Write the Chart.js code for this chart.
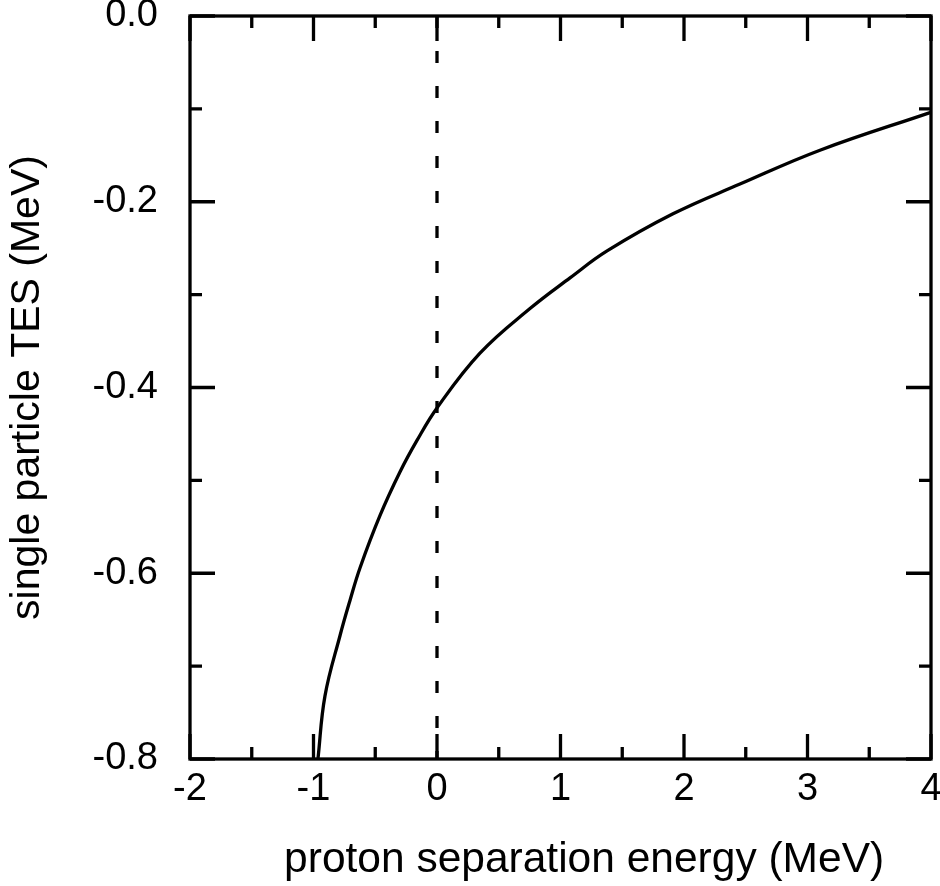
<!DOCTYPE html>
<html>
<head>
<meta charset="utf-8">
<script src="https://cdn.jsdelivr.net/npm/chart.js@4.4.1/dist/chart.umd.min.js"></script>
<style>
  html, body { margin: 0; padding: 0; background: #fff; }
  #wrap { width: 940px; height: 886px; position: relative; }
</style>
</head>
<body>
<div id="wrap"><canvas id="c"></canvas></div>
<script>
// Curve: proton separation energy (MeV) vs single particle TES (MeV)
const sepEnergy = [-0.964, -0.907, -0.785, -0.704, -0.623, -0.462, -0.300, -0.162, 0.0, 0.348, 0.753, 1.077, 1.377, 1.911, 2.453, 3.101, 3.992, 4.0];
const tesValues = [-0.800, -0.732, -0.667, -0.629, -0.594, -0.538, -0.491, -0.457, -0.422, -0.363, -0.315, -0.282, -0.253, -0.213, -0.181, -0.1445, -0.104, -0.1037];

// Vertical dashed reference line at zero separation energy
const dashX = [0, 0];
const dashY = [0, -0.8];

// Axis ticks
const xMajorTicks = [-2, -1, 0, 1, 2, 3, 4];
const xMinorTicks = [-1.5, -0.5, 0.5, 1.5, 2.5, 3.5];
const yMajorTicks = [0, -0.2, -0.4, -0.6, -0.8];
const yMinorTicks = [-0.1, -0.3, -0.5, -0.7];
const xTickLabels = ['-2', '-1', '0', '1', '2', '3', '4'];
const yTickLabels = ['0.0', '-0.2', '-0.4', '-0.6', '-0.8'];

const FONT = "'Liberation Sans', Arial, Helvetica, sans-serif";
const LW = 3.3;

const curveData = sepEnergy.map((x, i) => ({ x: x, y: tesValues[i] }));
const dashData = dashX.map((x, i) => ({ x: x, y: dashY[i] }));

const frameTicks = {
  id: 'frameTicks',
  afterDraw(chart) {
    const ctx = chart.ctx;
    const xs = chart.scales.x, ys = chart.scales.y;
    const { left, right, top, bottom } = chart.chartArea;
    ctx.save();
    ctx.strokeStyle = '#000';
    ctx.lineWidth = LW;
    ctx.lineCap = 'butt';
    ctx.beginPath();
    const tick = (x1, y1, x2, y2) => { ctx.moveTo(x1, y1); ctx.lineTo(x2, y2); };
    xMajorTicks.forEach(v => { const p = xs.getPixelForValue(v); tick(p, bottom, p, bottom - 25); tick(p, top, p, top + 25); });
    xMinorTicks.forEach(v => { const p = xs.getPixelForValue(v); tick(p, bottom, p, bottom - 12); tick(p, top, p, top + 12); });
    yMajorTicks.forEach(v => { const p = ys.getPixelForValue(v); tick(left, p, left + 25, p); tick(right, p, right - 25, p); });
    yMinorTicks.forEach(v => { const p = ys.getPixelForValue(v); tick(left, p, left + 12, p); tick(right, p, right - 12, p); });
    ctx.stroke();
    ctx.lineJoin = 'miter';
    ctx.strokeRect(left, top, right - left, bottom - top);
    ctx.restore();
  }
};

new Chart(document.getElementById('c'), {
  type: 'scatter',
  data: {
    datasets: [
      {
        data: curveData,
        showLine: true,
        borderColor: '#000',
        borderWidth: LW,
        pointRadius: 0,
        tension: 0.4,
        fill: false
      },
      {
        data: dashData,
        showLine: true,
        borderColor: '#000',
        borderWidth: LW,
        borderDash: [12, 23],
        pointRadius: 0,
        fill: false
      }
    ]
  },
  options: {
    responsive: true,
    maintainAspectRatio: false,
    animation: false,
    layout: { padding: { top: 16, right: 9, left: 0, bottom: 0 } },
    plugins: { legend: { display: false }, tooltip: { enabled: false } },
    scales: {
      x: {
        type: 'linear',
        min: -2, max: 4,
        afterBuildTicks: s => { s.ticks = xMajorTicks.map(v => ({ value: v })); },
        afterFit: s => { s.height = 127; s.paddingLeft = 0; s.paddingRight = 0; },
        grid: { display: false, drawTicks: false },
        border: { display: false },
        ticks: {
          color: '#000',
          font: { family: FONT, size: 38 },
          padding: 8,
          maxRotation: 0,
          autoSkip: false,
          callback: (v) => { const i = xMajorTicks.indexOf(v); return i >= 0 ? xTickLabels[i] : ''; }
        },
        title: {
          display: true,
          text: '    proton separation energy (MeV)',
          color: '#000',
          font: { family: FONT, size: 42.5 },
          padding: { top: 8, bottom: 0 }
        }
      },
      y: {
        type: 'linear',
        min: -0.8, max: 0,
        afterBuildTicks: s => { s.ticks = yMajorTicks.map(v => ({ value: v })); },
        afterFit: s => { s.width = 190; s.paddingTop = 0; s.paddingBottom = 0; },
        grid: { display: false, drawTicks: false },
        border: { display: false },
        ticks: {
          color: '#000',
          font: { family: FONT, size: 38 },
          padding: 32,
          autoSkip: false,
          callback: (v) => { const i = yMajorTicks.findIndex(t => Math.abs(t - v) < 1e-9); return i >= 0 ? yTickLabels[i] : ''; }
        },
        title: {
          display: true,
          text: 'single particle TES (MeV)',
          color: '#000',
          font: { family: FONT, size: 41 },
          padding: { top: 3, bottom: 0 }
        }
      }
    }
  },
  plugins: [frameTicks]
});
</script>
</body>
</html>
